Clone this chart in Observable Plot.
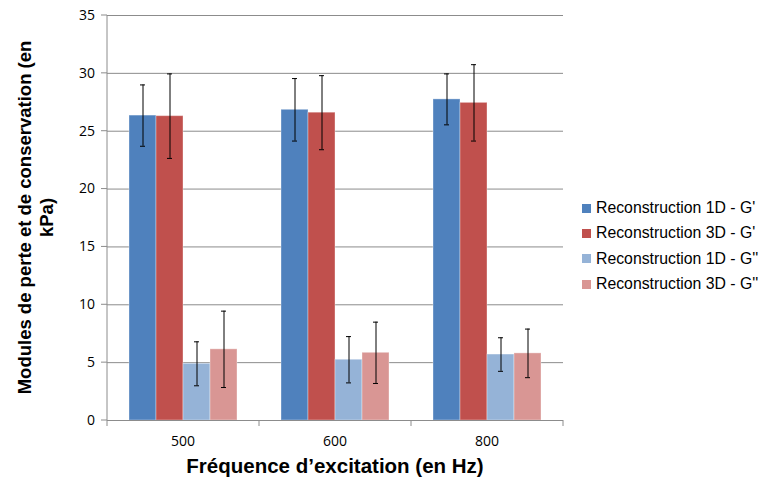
<!DOCTYPE html>
<html>
<head>
<meta charset="utf-8">
<script src="https://cdn.jsdelivr.net/npm/d3@7"></script>
<script src="https://cdn.jsdelivr.net/npm/@observablehq/plot@0.6"></script>
<style>
  html, body { margin: 0; padding: 0; background: #fff; overflow: hidden; }
  #wrap { position: relative; width: 764px; height: 482px; overflow: hidden; }
  #legend { position: absolute; left: 582px; top: 195.5px; font-family: "Liberation Sans", Arial, sans-serif; font-size: 15.8px; color: #000; white-space: nowrap; }
  #legend .row { display: flex; align-items: center; height: 25.3px; }
  #legend .sw { width: 9px; height: 9px; margin-right: 5px; flex: none; }
</style>
</head>
<body>
<div id="wrap"></div>
<script>
const frequencies = ["500", "600", "800"];
const seriesNames = ["Reconstruction 1D - G'", "Reconstruction 3D - G'", "Reconstruction 1D - G''", "Reconstruction 3D - G''"];
const seriesColors = ["#4F81BD", "#C0504D", "#95B3D7", "#D99694"];
const values1DGp  = [26.35, 26.85, 27.75];
const values3DGp  = [26.3, 26.6, 27.45];
const values1DGpp = [4.9, 5.25, 5.7];
const values3DGpp = [6.15, 5.85, 5.8];
const err1DGp  = [2.65, 2.7, 2.2];
const err3DGp  = [3.65, 3.2, 3.3];
const err1DGpp = [1.9, 2.0, 1.45];
const err3DGpp = [3.3, 2.65, 2.1];
const yTicks = [0, 5, 10, 15, 20, 25, 30, 35];
const xTitle = "Fréquence d’excitation (en Hz)";
const yTitleLines = ["Modules de perte et de conservation (en", "kPa)"];

const seriesValues = [values1DGp, values3DGp, values1DGpp, values3DGpp];
const seriesErrors = [err1DGp, err3DGp, err1DGpp, err3DGpp];
const data = [];
frequencies.forEach((f, i) => {
  seriesNames.forEach((s, j) => {
    data.push({freq: f, series: s, value: seriesValues[j][i], err: seriesErrors[j][i]});
  });
});

const W = 764, H = 482;
const plot = Plot.plot({
  width: W, height: H,
  marginLeft: 106, marginRight: 201, marginTop: 15, marginBottom: 62,
  style: {fontFamily: "'Open Sans', 'Liberation Sans', sans-serif", fontSize: "12px", color: "#000", background: "#fff"},
  fx: {domain: frequencies, paddingInner: 0, paddingOuter: 0, label: null, axis: null},
  x: {domain: seriesNames, paddingInner: 0, paddingOuter: 0.77, axis: null},
  y: {domain: [0, 35], axis: null},
  color: {domain: seriesNames, range: seriesColors},
  marks: [
    Plot.gridY(yTicks, {stroke: "#8c8c8c", strokeOpacity: 1, strokeWidth: 1}),
    Plot.barY(data, {fx: "freq", x: "series", y: "value", fill: "series", stroke: "#ffffff", strokeOpacity: 0.35, strokeWidth: 1}),
    Plot.ruleY([0], {stroke: "#8c8c8c", strokeWidth: 1}),
    Plot.ruleX(data, {fx: "freq", x: "series", y1: d => d.value - d.err, y2: d => d.value + d.err, stroke: "#000", strokeWidth: 1}),
    Plot.tickY(data, {fx: "freq", x: "series", y: d => d.value - d.err, stroke: "#000", strokeWidth: 1, insetLeft: 11, insetRight: 11}),
    Plot.tickY(data, {fx: "freq", x: "series", y: d => d.value + d.err, stroke: "#000", strokeWidth: 1, insetLeft: 11, insetRight: 11})
  ]
});

document.getElementById("wrap").appendChild(plot);

// Axes drawn from the library's scales
const svg = d3.select(plot);
const fx = plot.scale("fx");
const y = plot.scale("y");
const bw = fx.bandwidth;
const left = fx.apply(frequencies[0]);
const right = fx.apply(frequencies[frequencies.length - 1]) + bw;
const y0 = y.apply(0), yTop = y.apply(35);
const g = svg.append("g").attr("class", "custom-axes");
g.append("line").attr("x1", left).attr("x2", left).attr("y1", yTop).attr("y2", y0).attr("stroke", "#8c8c8c");
yTicks.forEach(t => {
  g.append("line").attr("x1", left - 6).attr("x2", left).attr("y1", y.apply(t)).attr("y2", y.apply(t)).attr("stroke", "#8c8c8c");
  g.append("text").attr("x", left - 12).attr("y", y.apply(t)).attr("dy", "0.35em").attr("text-anchor", "end")
    .attr("font-family", "'Open Sans', sans-serif").attr("font-size", 14).attr("fill", "#000").text(t);
});
const bounds = frequencies.map(f => fx.apply(f)).concat([right]);
bounds.forEach(b => {
  g.append("line").attr("x1", b).attr("x2", b).attr("y1", y0).attr("y2", y0 + 6).attr("stroke", "#8c8c8c");
});
frequencies.forEach(f => {
  g.append("text").attr("x", fx.apply(f) + bw / 2).attr("y", y0 + 21).attr("dy", "0.35em").attr("text-anchor", "middle")
    .attr("font-family", "'Open Sans', sans-serif").attr("font-size", 14).attr("fill", "#000").text(f);
});
g.append("text").attr("x", (left + right) / 2).attr("y", 466).attr("dy", "0.35em").attr("text-anchor", "middle")
  .attr("font-family", "'Liberation Sans', Arial, sans-serif").attr("font-weight", "bold").attr("font-size", 20.5).attr("fill", "#000").text(xTitle);
const yt = g.append("text").attr("transform", `translate(25,${(yTop + y0) / 2}) rotate(-90)`)
  .attr("text-anchor", "middle").attr("font-family", "'Liberation Sans', Arial, sans-serif").attr("font-weight", "bold")
  .attr("font-size", 18.5).attr("fill", "#000");
yTitleLines.forEach((line, i) => {
  yt.append("tspan").attr("x", 0).attr("y", i * 22).attr("dy", "0.35em").text(line);
});

// Legend
const legend = document.createElement("div");
legend.id = "legend";
seriesNames.forEach((s, i) => {
  const row = document.createElement("div");
  row.className = "row";
  const sw = document.createElement("span");
  sw.className = "sw";
  sw.style.background = seriesColors[i];
  const label = document.createElement("span");
  label.textContent = s;
  row.appendChild(sw); row.appendChild(label);
  legend.appendChild(row);
});
document.getElementById("wrap").appendChild(legend);
</script>
</body>
</html>
